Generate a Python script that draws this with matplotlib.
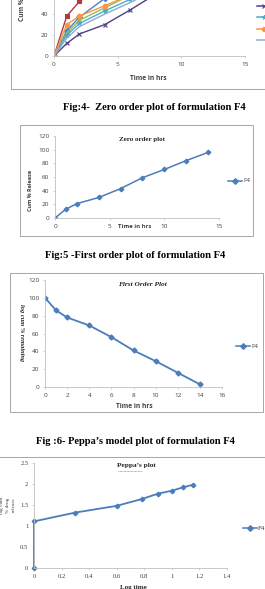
import matplotlib
matplotlib.use('Agg')
import matplotlib.pyplot as plt
from matplotlib.patches import Rectangle
from matplotlib.lines import Line2D

W, H = 265, 589

# --- Fig 4: zero order, all formulations (top cut off in the scan) ---
t_all = [0, 1, 2, 4, 6, 8, 10, 12, 14]
f1 = [0, 24, 37, 55, 70, 82, 90, 96, 99]
f2 = [0, 38, 52, 68, 80, 92, 98, 100, 100]
f3 = [0, 22, 34, 46, 58, 70, 82, 92, 98]
f4 = [0, 12, 21, 30, 44, 59, 71, 84, 96]
f5 = [0, 20, 31, 43, 54, 66, 78, 90, 97]
f6 = [0, 30, 38, 48, 58, 70, 82, 93, 99]
f7 = [0, 17, 28, 40, 51, 63, 76, 88, 96]
series_all = [f1, f2, f3, f4, f5, f6, f7]
names_all = ['F1', 'F2', 'F3', 'F4', 'F5', 'F6', 'F7']
colors_all = ['#4F81BD', '#B3393C', '#9BBB59', '#4E3F86', '#4BACC6', '#F79646', '#8EAAD6']
markers_all = ['D', 's', '^', 'x', '*', 'o', '']

# --- Fig 5: zero order F4 ---
t_f4 = [0, 1, 2, 4, 6, 8, 10, 12, 14]
cum_release = [0, 13, 21, 30, 43, 59, 71, 84, 96]

# --- Fig 6: first order F4 ---
log_remaining = [100, 86, 78, 69, 56, 41, 29, 16, 3]

# --- Peppas F4 ---
log_time = [0, 0, 0.30, 0.60, 0.78, 0.90, 1.00, 1.08, 1.15]
log_release = [0, 1.11, 1.32, 1.48, 1.64, 1.77, 1.84, 1.92, 1.98]

BLUE = '#4A7EBB'
GRID = '#BFBFBF'
TXT = '#404040'
SERIF = ['Liberation Serif', 'DejaVu Serif']
SANS = ['Open Sans', 'DejaVu Sans']

fig = plt.figure(figsize=(W / 100, H / 100), dpi=100)
fig.patch.set_facecolor('white')


def fx(x):
    return x / W


def fy(y):
    return 1 - y / H


def make_ax(x0, x1, y0, y1, xlim, ylim, xticks, yticks, family=SANS, fs=4.6):
    ax = fig.add_axes([fx(x0), fy(y0), (x1 - x0) / W, (y0 - y1) / H])
    ax.set_xlim(*xlim)
    ax.set_ylim(*ylim)
    ax.set_xticks(xticks)
    ax.set_yticks(yticks)
    for s in ['top', 'right']:
        ax.spines[s].set_visible(False)
    for s in ['left', 'bottom']:
        ax.spines[s].set_color(GRID)
        ax.spines[s].set_linewidth(0.6)
    ax.tick_params(length=1.5, width=0.5, color=GRID, labelcolor=TXT, pad=2.5)
    for lab in ax.get_xticklabels() + ax.get_yticklabels():
        lab.set_fontsize(fs)
        lab.set_family(family)
    ax.patch.set_alpha(0)
    return ax


def frame(x0, y0, x1, y1):
    fig.add_artist(Rectangle((fx(x0), fy(y1)), (x1 - x0) / W, (y1 - y0) / H,
                             transform=fig.transFigure, fill=False,
                             ec='#A6A6A6', lw=0.7))


def legend_entry(xa, y, color, marker, label, family=SANS, fs=4.5):
    xm = (xa + xa + 14) / 2
    fig.add_artist(Line2D([fx(xa), fx(xm), fx(xa + 14)], [fy(y)] * 3,
                          transform=fig.transFigure, color=color, lw=1.1,
                          marker=marker, markevery=[1], ms=3, mew=0.8))
    if xa + 15 < W:
        fig.text(fx(xa + 15), fy(y), label, fontsize=fs, family=family,
                 color=TXT, va='center', ha='left')


def caption(x, y, s):
    fig.text(fx(x), fy(y), s, ha='center', va='center', fontsize=7.6,
             family=SERIF, weight='bold', color='black')


# ---------- panel 1 (top of the chart is cut off by the page edge) ----------
frame(11, -40, 300, 89)
ax1 = make_ax(54, 245, 56, -70, (0, 15), (0, 120), [0, 5, 10, 15], [0, 20, 40])
for ys, c, m in zip(series_all, colors_all, markers_all):
    ax1.plot(t_all, ys, color=c, lw=1.0, marker=m if m else None, ms=3.2, mew=0.8)
fig.text(fx(148), fy(78), 'Time in hrs', ha='center', va='center', fontsize=4.8,
         family=SANS, weight='bold', color=TXT)
fig.text(fx(22), fy(-4), 'Cum % Release', ha='center', va='center', rotation=90,
         fontsize=4.8, family=SANS, weight='bold', color=TXT)
for i, (c, m) in enumerate(zip(colors_all, markers_all)):
    legend_entry(257, 40 - (6 - i) * 11.4, c, m if m else None, names_all[i])
caption(154, 108, 'Fig:4-  Zero order plot of formulation F4')

# ---------- panel 2 ----------
frame(20, 125, 253, 236)
ax2 = make_ax(55, 219, 218, 136, (0, 15), (0, 120), [0, 5, 10, 15], [0, 20, 40, 60, 80, 100, 120])
ax2.plot(t_f4, cum_release, color=BLUE, lw=1.1, marker='D', ms=2.3)
fig.text(fx(142), fy(139), 'Zero order plot', ha='center', va='center', fontsize=5,
         family=SERIF, weight='bold', color='#262626')
fig.text(fx(30), fy(190), 'Cum % Release', ha='center', va='center', rotation=90,
         fontsize=4, family=SANS, weight='bold', color=TXT)
fig.text(fx(135), fy(226), 'Time in hrs', ha='center', va='center', fontsize=4.3,
         family=SANS, weight='bold', color=TXT)
legend_entry(228, 181, BLUE, 'D', 'F4')
caption(135, 256, 'Fig:5 -First order plot of formulation F4')

# ---------- panel 3 ----------
frame(10, 273, 263, 412)
ax3 = make_ax(45, 222, 387, 280, (0, 16), (0, 120), list(range(0, 17, 2)), [0, 20, 40, 60, 80, 100, 120])
ax3.plot(t_f4, log_remaining, color=BLUE, lw=1.3, marker='D', ms=2.5)
fig.text(fx(142), fy(285), 'First Order Plot', ha='center', va='center', fontsize=5.3,
         family=SERIF, weight='bold', style='italic', color='#262626')
fig.text(fx(21), fy(333), 'log cum % remaining', ha='center', va='center', rotation=-90,
         fontsize=4.6, family=SERIF, weight='bold', style='italic', color='#262626')
fig.text(fx(134), fy(407), 'Time in hrs', ha='center', va='center', fontsize=4.8,
         family=SANS, weight='bold', color=TXT)
legend_entry(236, 346, BLUE, 'D', 'F4')
caption(135, 442, 'Fig :6- Peppa\u2019s model plot of formulation F4')

# ---------- panel 4 ----------
fig.add_artist(Line2D([0, 1], [fy(457), fy(457)], transform=fig.transFigure,
                      color='#A6A6A6', lw=0.7))
ax4 = make_ax(34, 227, 568, 463, (0, 1.4), (0, 2.5),
              [0, 0.2, 0.4, 0.6, 0.8, 1, 1.2, 1.4], [0, 0.5, 1, 1.5, 2, 2.5], family=SERIF, fs=4.8)
ax4.set_xticklabels(['0', '0.2', '0.4', '0.6', '0.8', '1', '1.2', '1.4'], family=SERIF, fontsize=4.8)
ax4.set_yticklabels(['0', '0.5', '1', '1.5', '2', '2.5'], family=SERIF, fontsize=4.8)
ax4.plot(log_time, log_release, color=BLUE, lw=1.3, marker='D', ms=2.3, clip_on=False)
fig.text(fx(136), fy(466), 'Peppa\u2019s plot', ha='center', va='center', fontsize=5.3,
         family=SERIF, weight='bold', color='#262626')
fig.add_artist(Line2D([fx(118), fx(142)], [fy(471), fy(471)], transform=fig.transFigure,
                      color='#E04040', lw=0.5, ls=(0, (1, 1))))
fig.text(fx(8), fy(505), 'log cum\n% drug\nrelease', ha='center', va='center', rotation=90,
         fontsize=3.8, family=SERIF, color=TXT, linespacing=1.8)
fig.text(fx(133), fy(587), 'Log time', ha='center', va='center', fontsize=5,
         family=SERIF, weight='bold', color='#262626')
legend_entry(243, 528, BLUE, 'D', 'F4', family=SERIF, fs=5)

fig.savefig('out.png', dpi=100)
